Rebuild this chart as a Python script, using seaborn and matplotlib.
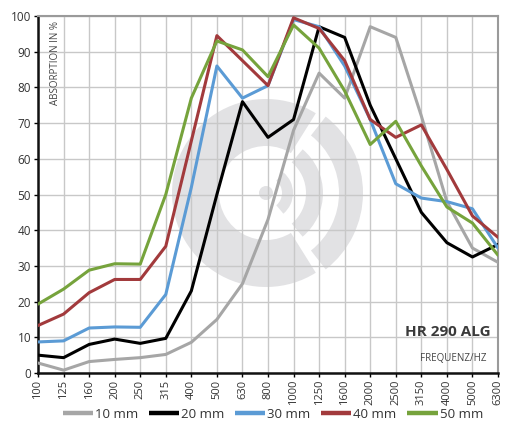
import numpy as np
import pandas as pd
import matplotlib
matplotlib.use("Agg")
import matplotlib.pyplot as plt
from matplotlib.patches import Wedge, Circle
from matplotlib.transforms import IdentityTransform
from matplotlib.lines import Line2D
import seaborn as sns

freqs = ["100", "125", "160", "200", "250", "315", "400", "500", "630", "800",
         "1000", "1250", "1600", "2000", "2500", "3150", "4000", "5000", "6300"]
mm10 = [2.8, 0.8, 3.2, 3.8, 4.3, 5.2, 8.6, 15, 25, 43, 68, 84, 77, 97, 94, 72, 48, 35, 31]
mm20 = [5.0, 4.3, 8.0, 9.5, 8.3, 9.7, 23, 50, 76, 66, 71, 97, 94, 75, 60, 45, 36.5, 32.5, 36]
mm30 = [8.7, 9.0, 12.6, 12.9, 12.8, 22, 52, 86, 77, 80.5, 99, 97, 86, 71, 53, 49, 48, 46, 35]
mm40 = [13.3, 16.5, 22.5, 26.2, 26.2, 35.5, 65, 94.5, 87.5, 80.5, 99.5, 96.5, 87.5, 71, 66, 69.5, 57, 44, 38]
mm50 = [19.3, 23.5, 28.8, 30.6, 30.5, 50, 77, 93, 90.5, 83, 97.5, 91, 79, 64, 70.5, 58, 46.5, 42, 33]
series_names = ["10 mm", "20 mm", "30 mm", "40 mm", "50 mm"]
series_vals = [mm10, mm20, mm30, mm40, mm50]
colors = ["#a6a6a6", "#000000", "#5b9bd5", "#a23a3c", "#76a33c"]

rows = []
for name, vals in zip(series_names, series_vals):
    for i, v in enumerate(vals):
        rows.append({"pos": i, "value": v, "series": name})
df = pd.DataFrame(rows)

sns.set_theme(style="white")
plt.rcParams["font.family"] = ["Open Sans", "DejaVu Sans"]

fig = plt.figure(figsize=(5.05, 4.37), dpi=100)
ax = fig.add_axes([38 / 505, 64 / 437, 460 / 505, 357 / 437])
ax.set_zorder(2)
ax.patch.set_alpha(0)

# watermark logo (decorative), drawn behind the axes content
cx, cy = 266, 437 - 193
logo_c = "#e2e2e4"
tr = IdentityTransform()
for p in [
    Wedge((cx, cy), 94, 58, 302, width=47, transform=tr),
    Wedge((cx, cy), 97, -52, 52, width=24, transform=tr),
    Wedge((cx, cy), 57, -50, 50, width=17, transform=tr),
    Wedge((cx, cy), 27, -50, 50, width=11, transform=tr),
    Circle((cx, cy), 7, transform=tr),
]:
    p.set_facecolor(logo_c)
    p.set_edgecolor("none")
    p.set_zorder(0)
    fig.patches.append(p)

sns.lineplot(data=df, x="pos", y="value", hue="series", hue_order=series_names,
             palette=colors, linewidth=2.2, ax=ax, legend=False, zorder=3)

ax.set_xlim(0, len(freqs) - 1)
ax.set_ylim(0, 100)
ax.set_xticks(range(len(freqs)))
ax.set_xticklabels(freqs, rotation=90, fontsize=8, color="#333333")
ax.set_yticks(range(0, 101, 10))
ax.set_yticklabels([str(v) for v in range(0, 101, 10)], fontsize=8.5, color="#333333")
ax.set_xlabel("")
ax.set_ylabel("")
ax.grid(True, color="#c8c8c8", linewidth=1.0, zorder=1)
ax.set_axisbelow(True)
ax.tick_params(axis="both", which="both", direction="out", length=3, width=1, color="#000000", pad=2,
               bottom=True, left=True)
for s in ["left", "bottom"]:
    ax.spines[s].set_color("#111111")
    ax.spines[s].set_linewidth(1.8)
for s in ["top", "right"]:
    ax.spines[s].set_color("#9a9a9a")
    ax.spines[s].set_linewidth(1.5)

ax.text(0.038, 0.985, "ABSORPTION IN %", transform=ax.transAxes, rotation=90,
        ha="center", va="top", fontsize=7, color="#444444")
ax.text(0.985, 0.115, "HR 290 ALG", transform=ax.transAxes, ha="right", va="center",
        fontsize=11, fontweight="bold", color="#3a3a3a")
ax.text(0.975, 0.04, "FREQUENZ/HZ", transform=ax.transAxes, ha="right", va="center",
        fontsize=7, color="#444444")

handles = [Line2D([0], [0], color=c, linewidth=3.2, solid_capstyle="butt") for c in colors]
fig.legend(handles, series_names, loc="center", bbox_to_anchor=(0.54, 23 / 437), ncol=5,
           frameon=False, fontsize=9.5, handlelength=2.3, handletextpad=0.15, columnspacing=0.8,
           labelcolor="#333333")

fig.savefig("out.png", dpi=100)
